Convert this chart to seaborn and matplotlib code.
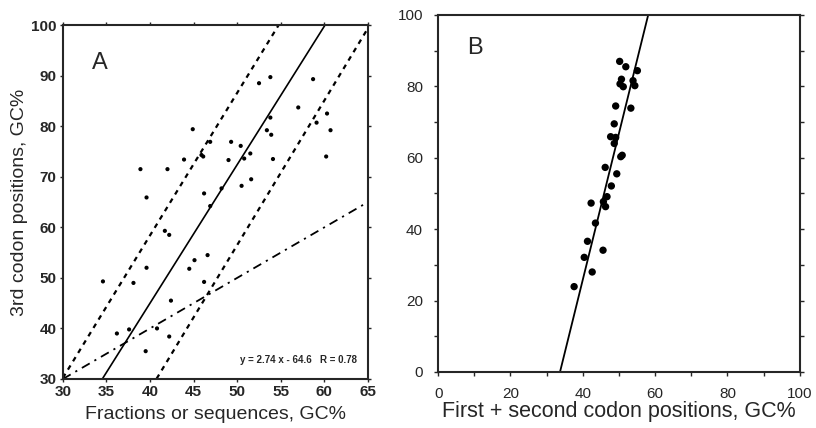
import numpy as np
import pandas as pd
import matplotlib
matplotlib.use('Agg')
import matplotlib.pyplot as plt
import seaborn as sns

# %% data, panel A
a_x = [34.6, 38.9, 39.6, 39.6, 38.1, 36.2, 37.6, 39.5, 40.8, 41.7, 42.2, 42.0,
       42.4, 42.2, 43.9, 44.9, 44.5, 45.1, 45.9, 46.1, 46.2, 46.9, 46.9, 46.6,
       46.2, 48.2, 49.0, 49.3, 50.4, 50.8, 50.5, 51.5, 51.6, 52.5, 53.8, 58.7,
       57.0, 60.3, 60.7, 59.1, 60.2, 53.8, 53.4, 53.9, 54.1]
a_y = [49.3, 71.5, 65.9, 52.0, 49.0, 39.0, 39.8, 35.5, 40.0, 59.3, 58.5, 71.5,
       45.5, 38.4, 73.4, 79.4, 51.8, 53.5, 74.3, 74.0, 66.7, 76.9, 64.2, 54.5,
       49.2, 67.7, 73.3, 76.9, 76.1, 73.6, 68.2, 74.6, 69.5, 88.5, 89.7, 89.3,
       83.7, 82.5, 79.2, 80.7, 74.0, 81.7, 79.2, 78.3, 73.5]

# regression (solid), confidence bounds (dashed), diagonal (dash-dot)
fit_slope, fit_icpt = 2.74, -64.6
upper_slope, upper_icpt = 2.82, -54.4
lower_slope, lower_icpt = 2.86, -86.5
diag_slope, diag_icpt = 1.0, 0.0

# %% data, panel B
b_x = [37.6, 42.6, 40.4, 45.6, 41.3, 43.5, 42.3, 45.7, 46.3, 46.7, 47.9, 46.2,
       49.4, 50.5, 50.9, 48.7, 47.7, 49.1, 48.7, 49.1, 53.3, 50.3, 50.7, 53.9,
       54.4, 50.2, 51.9, 55.1, 51.2]
b_y = [23.9, 28.0, 32.1, 34.1, 36.6, 41.7, 47.3, 47.7, 46.3, 49.1, 52.1, 57.3,
       55.5, 60.3, 60.7, 64.0, 65.9, 65.7, 69.5, 74.5, 73.9, 80.7, 82.0, 81.6,
       80.2, 87.0, 85.5, 84.4, 79.9]
b_slope, b_x0 = 4.1, 33.7

sns.set_style('ticks')
plt.rcParams['font.family'] = ['Liberation Sans', 'DejaVu Sans']

fig = plt.figure(figsize=(8.16, 4.28), dpi=100)
axA = fig.add_axes([0.077, 0.1145, 0.374, 0.827])
axB = fig.add_axes([0.537, 0.131, 0.443, 0.834])

# %% panel A
dfA = pd.DataFrame({'x': a_x, 'y': a_y})
sns.scatterplot(x='x', y='y', data=dfA, ax=axA, color='black', s=9,
                edgecolor='none', zorder=3)


def line_df(slope, icpt, lo, hi):
    xs = np.linspace(lo, hi, 50)
    return pd.DataFrame({'x': xs, 'y': slope * xs + icpt})


sns.lineplot(x='x', y='y', data=line_df(fit_slope, fit_icpt, 30, 65), ax=axA,
             color='black', lw=1.2)
sns.lineplot(x='x', y='y', data=line_df(upper_slope, upper_icpt, 30, 65), ax=axA,
             color='black', lw=1.6, linestyle=(0, (2.2, 2.2)))
sns.lineplot(x='x', y='y', data=line_df(lower_slope, lower_icpt, 30, 65), ax=axA,
             color='black', lw=1.6, linestyle=(0, (2.2, 2.2)))
sns.lineplot(x='x', y='y', data=line_df(diag_slope, diag_icpt, 30, 65), ax=axA,
             color='black', lw=1.3, linestyle=(0, (5, 3, 1.2, 3)))

axA.set_xlim(30, 65)
axA.set_ylim(30, 100)
axA.set_xticks(range(30, 66, 5))
axA.set_yticks(range(30, 101, 10))
axA.tick_params(direction='out', length=2.5, width=1, labelsize=11,
                top=True, right=True, pad=2)
for lab in axA.get_xticklabels() + axA.get_yticklabels():
    lab.set_fontweight('bold')
for sp in axA.spines.values():
    sp.set_linewidth(1.5)
    sp.set_visible(True)
axA.set_xlabel('Fractions or sequences, GC%', fontsize=14, labelpad=5)
axA.set_ylabel('3rd codon positions, GC%', fontsize=14, labelpad=2)
axA.text(0.095, 0.875, 'A', transform=axA.transAxes, fontsize=17)
axA.text(0.965, 0.045, 'y = 2.74 x - 64.6   R = 0.78', transform=axA.transAxes,
         fontsize=7, fontweight='bold', ha='right')

# %% panel B
dfB = pd.DataFrame({'x': b_x, 'y': b_y})
sns.scatterplot(x='x', y='y', data=dfB, ax=axB, color='black', s=28,
                edgecolor='none', zorder=3)
sns.lineplot(x='x', y='y', data=line_df(b_slope, -b_slope * b_x0, b_x0, 60),
             ax=axB, color='black', lw=1.3)

axB.set_xlim(0, 100)
axB.set_ylim(0, 100)
axB.set_xticks(range(0, 101, 20))
axB.set_yticks(range(0, 101, 20))
axB.set_xticks(range(0, 101, 10), minor=True)
axB.set_yticks(range(0, 101, 10), minor=True)
axB.tick_params(which='both', direction='out', length=3, width=1,
                right=True, labelsize=11, pad=8)
for sp in axB.spines.values():
    sp.set_linewidth(1.5)
    sp.set_visible(True)
axB.set_xlabel('First + second codon positions, GC%', fontsize=15.5, labelpad=0)
axB.set_ylabel('')
axB.text(0.08, 0.89, 'B', transform=axB.transAxes, fontsize=17)

fig.savefig('out.png', dpi=100)
